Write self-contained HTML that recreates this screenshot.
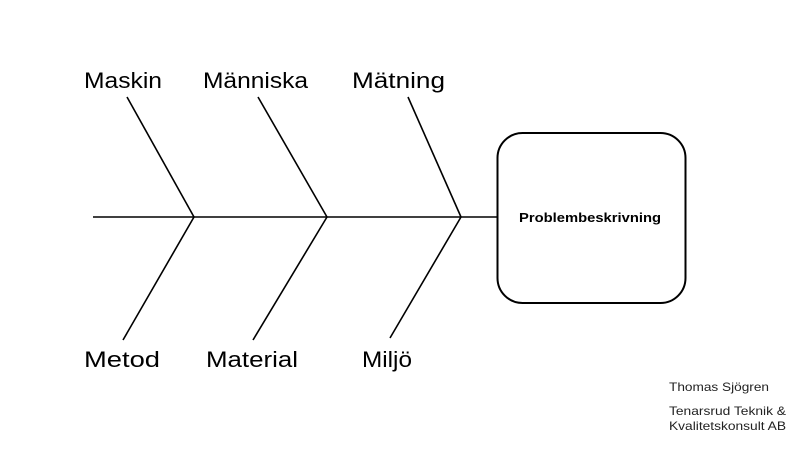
<!DOCTYPE html>
<html><head><meta charset="utf-8"><style>html,body{margin:0;padding:0;background:#fff}</style></head>
<body>
<svg width="800" height="450" viewBox="0 0 800 450" xmlns="http://www.w3.org/2000/svg" font-family="Liberation Sans, sans-serif">
<rect width="800" height="450" fill="#fff"/>
<g stroke="#000" stroke-width="1.6" fill="none">
<line x1="93" y1="217" x2="498" y2="217"/>
<line x1="127" y1="97" x2="194" y2="217"/>
<line x1="194" y1="217" x2="123" y2="340"/>
<line x1="258" y1="97" x2="327" y2="217"/>
<line x1="327" y1="217" x2="253" y2="340"/>
<line x1="408" y1="97" x2="461" y2="217"/>
<line x1="461" y1="217" x2="390" y2="338"/>
<rect x="497.5" y="133" width="188" height="170" rx="25" ry="25" stroke-width="2"/>
</g>
<g font-size="22" fill="#000">
<text x="84" y="88" textLength="78" lengthAdjust="spacingAndGlyphs">Maskin</text>
<text x="203" y="88" textLength="105" lengthAdjust="spacingAndGlyphs">Människa</text>
<text x="352" y="88" textLength="93" lengthAdjust="spacingAndGlyphs">Mätning</text>
<text x="84" y="367" textLength="76" lengthAdjust="spacingAndGlyphs">Metod</text>
<text x="206" y="367" textLength="92" lengthAdjust="spacingAndGlyphs">Material</text>
<text x="362" y="367" textLength="50" lengthAdjust="spacingAndGlyphs">Miljö</text>
</g>
<text x="519" y="222" font-size="13" font-weight="bold" textLength="142" lengthAdjust="spacingAndGlyphs">Problembeskrivning</text>
<g font-size="12" fill="#222">
<text x="669" y="391" textLength="100" lengthAdjust="spacingAndGlyphs">Thomas Sjögren</text>
<text x="669" y="415" textLength="117" lengthAdjust="spacingAndGlyphs">Tenarsrud Teknik &amp;</text>
<text x="669" y="430" textLength="117" lengthAdjust="spacingAndGlyphs">Kvalitetskonsult AB</text>
</g>
</svg>
</body></html>
